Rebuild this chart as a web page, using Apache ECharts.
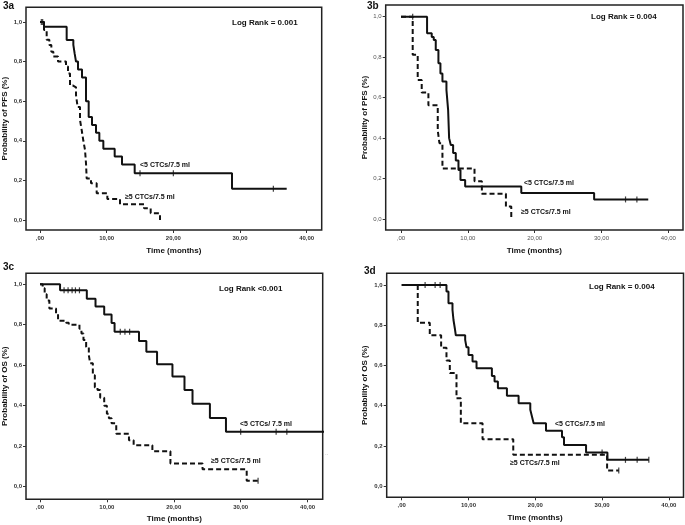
<!DOCTYPE html>
<html>
<head>
<meta charset="utf-8">
<script src="https://cdn.jsdelivr.net/npm/echarts@6/dist/echarts.min.js"></script>
<style>html,body{margin:0;padding:0;background:#fff}#c{width:685px;height:525px}</style>
</head>
<body>
<div id="c"></div>
<script>
// ---- tick labels ----
const xTicks = [0, 10, 20, 30, 40];
const yTicks = [0, 0.2, 0.4, 0.6, 0.8, 1.0];

// ---- panel titles / texts ----
const panelNames = ['3a', '3b', '3c', '3d'];
const logRanks = ['Log Rank = 0.001', 'Log Rank = 0.004', 'Log Rank <0.001', 'Log Rank = 0.004'];
const yTitles = ['Probability of PFS (%)', 'Probability of PFS (%)', 'Probability of OS (%)', 'Probability of OS (%)'];
const xTitle = 'Time (months)';
const lowLabels = ['<5 CTCs/7.5 ml', '<5 CTCs/7.5 ml', '<5 CTCs/ 7.5 ml', '<5 CTCs/7.5 ml'];
const highLabels = ['≥5 CTCs/7.5 ml', '≥5 CTCs/7.5 ml', '≥5 CTCs/7.5 ml', '≥5 CTCs/7.5 ml'];

// ---- 3a PFS ----
const aLow = [[0,1],[0.6,0.976],[4.0,0.909],[5.0,0.884],[5.2,0.84],[5.4,0.80],[5.7,0.76],[6.3,0.72],[6.9,0.60],[7.3,0.52],[7.8,0.48],[8.4,0.44],[8.9,0.40],[9.5,0.36],[11.2,0.32],[12.3,0.28],[14.2,0.236],[28.8,0.158],[37,0.158]];
const aLowCens = [[15,0.236],[20,0.236],[35,0.158]];
const aHigh = [[0,1],[0.6,0.96],[1.0,0.91],[1.4,0.884],[1.7,0.85],[2.0,0.825],[2.7,0.80],[3.9,0.775],[4.2,0.74],[4.5,0.68],[4.9,0.67],[5.4,0.63],[5.65,0.57],[6.0,0.505],[6.25,0.455],[6.5,0.40],[6.75,0.354],[6.9,0.286],[7.0,0.21],[7.65,0.185],[8.5,0.135],[10.1,0.106],[12.0,0.08],[15.6,0.059],[16.6,0.034],[18.0,0.0]];
const aHighCens = [[0.2,1],[0.4,1]];

// ---- 3b PFS ----
const bLow = [[0,1],[3.9,0.918],[4.6,0.90],[4.9,0.885],[5.2,0.835],[5.6,0.77],[5.9,0.72],[6.2,0.68],[6.8,0.638],[7.05,0.54],[7.2,0.40],[7.45,0.366],[7.8,0.326],[8.2,0.29],[8.6,0.242],[8.9,0.193],[9.6,0.161],[18.0,0.129],[28.9,0.097],[37,0.097]];
const bLowCens = [[33.6,0.097],[35.3,0.097]];
const bHigh = [[0,1],[1.75,0.8125],[2.5,0.6875],[3.1,0.625],[4.1,0.5625],[5.5,0.4375],[5.75,0.375],[6.2,0.25],[11.0,0.1875],[12.1,0.125],[15.7,0.0625],[16.5,0]];
const bHighCens = [[1.75,1]];

// ---- 3c OS ----
const cLow = [[0,1],[3.0,0.97],[7.0,0.928],[8.3,0.89],[9.6,0.85],[10.7,0.808],[11.15,0.765],[14.8,0.72],[15.9,0.666],[17.5,0.605],[19.8,0.545],[21.6,0.478],[22.8,0.41],[25.4,0.34],[27.8,0.272],[44,0.272]];
const cLowCens = [[3.6,0.97],[4.2,0.97],[4.8,0.97],[5.3,0.97],[5.9,0.97],[12.0,0.765],[12.7,0.765],[13.4,0.765],[30,0.272],[35.3,0.272],[36.9,0.272]];
const cHigh = [[0,1],[0.4,0.98],[0.7,0.95],[1.0,0.92],[1.4,0.88],[2.4,0.855],[2.7,0.82],[3.9,0.81],[4.3,0.80],[5.9,0.78],[6.2,0.757],[6.5,0.725],[6.9,0.69],[7.3,0.65],[7.5,0.61],[7.9,0.55],[8.2,0.49],[8.6,0.478],[9.0,0.44],[9.6,0.40],[10.0,0.36],[10.3,0.338],[10.7,0.313],[11.4,0.262],[13.3,0.23],[14.0,0.205],[16.8,0.175],[19.5,0.115],[24.3,0.086],[30.9,0.03],[32.6,0.03]];
const cHighCens = [[32.6,0.03]];

// ---- 3d OS ----
const dLow = [[0,1],[6.7,0.967],[7.0,0.909],[7.6,0.876],[7.75,0.826],[7.95,0.785],[8.1,0.75],[9.5,0.727],[9.7,0.69],[10.0,0.652],[10.6,0.62],[11.2,0.586],[13.5,0.548],[13.9,0.52],[14.4,0.487],[15.75,0.449],[17.5,0.412],[19.25,0.38],[19.5,0.346],[19.75,0.313],[21.6,0.276],[24.0,0.243],[24.3,0.205],[27.6,0.167],[30.8,0.131],[37,0.131]];
const dLowCens = [[3.5,1],[5.0,1],[5.75,1],[30.0,0.167],[33.5,0.131],[35.25,0.131],[37,0.131]];
const dHigh = [[0,1],[2.4,0.8125],[4.2,0.75],[5.9,0.6875],[6.7,0.625],[7.2,0.5625],[8.2,0.4375],[8.85,0.3125],[12.1,0.234],[16.7,0.156],[30.75,0.078],[32.5,0.078]];
const dHighCens = [[32.5,0.078]];

const lows = [aLow, bLow, cLow, dLow];
const highs = [aHigh, bHigh, cHigh, dHigh];
const lowCens = [aLowCens, bLowCens, cLowCens, dLowCens];
const highCens = [aHighCens, bHighCens, cHighCens, dHighCens];

// ---- layout ----
const grids = [
  {left: 26, top: 7.3, width: 295.7, height: 222.7},
  {left: 385.7, top: 5, width: 297.3, height: 225},
  {left: 26, top: 273.3, width: 296.7, height: 226},
  {left: 386.7, top: 273.3, width: 296.8, height: 224}
];
const xRanges = [[-2.1, 42.25], [-2.29, 42.2], [-2.09, 42.26], [-2.25, 42.19]];
const yRanges = [[-0.0505, 1.074], [-0.054, 1.058], [-0.062, 1.054], [-0.055, 1.058]];
const xNameGaps = [16.5, 16.5, 15, 16];
const yNameGaps = [17, 16.7, 17, 17.7];

const ink = '#111';
const tickFmtX = v => v === 0 ? ',00' : v.toFixed(2).replace('.', ',');
const tickFmtY = v => v.toFixed(1).replace('.', ',');
const font = 'Liberation Sans';

const option = {
  animation: false,
  backgroundColor: '#fff',
  grid: grids.map(g => Object.assign({show: true, borderColor: '#222', borderWidth: 1.5, backgroundColor: 'transparent'}, g)),
  xAxis: grids.map((g, i) => ({
    type: 'value', gridIndex: i, min: xRanges[i][0], max: xRanges[i][1], position: 'bottom',
    axisLine: {show: false, onZero: false}, splitLine: {show: false},
    axisTick: {show: true, inside: false, length: 3, customValues: xTicks, lineStyle: {color: '#333', width: 1}},
    axisLabel: {customValues: xTicks, formatter: tickFmtX, fontSize: 6, fontFamily: font,
      fontWeight: i === 1 ? 'normal' : 'bold', color: i === 1 ? '#555' : '#333', margin: 5},
    name: xTitle, nameLocation: 'middle', nameGap: xNameGaps[i],
    nameTextStyle: {fontSize: 8, fontWeight: 'bold', fontFamily: font, color: ink}
  })),
  yAxis: grids.map((g, i) => ({
    type: 'value', gridIndex: i, min: yRanges[i][0], max: yRanges[i][1], position: 'left',
    axisLine: {show: false, onZero: false}, splitLine: {show: false},
    axisTick: {show: true, inside: false, length: 3, customValues: yTicks, lineStyle: {color: '#333', width: 1}},
    axisLabel: {customValues: yTicks, formatter: tickFmtY, fontSize: 6, fontFamily: font,
      fontWeight: i === 1 ? 'normal' : 'bold', color: i === 1 ? '#555' : '#333', margin: 4},
    name: yTitles[i], nameLocation: 'middle', nameGap: yNameGaps[i],
    nameTextStyle: {fontSize: 8, fontWeight: 'bold', fontFamily: font, color: ink}
  })),
  series: [],
  graphic: []
};

for (let i = 0; i < 4; i++) {
  option.series.push({
    type: 'line', xAxisIndex: i, yAxisIndex: i, data: lows[i], step: 'end', showSymbol: false,
    lineStyle: {color: ink, width: 2}, clip: true, silent: true
  });
  option.series.push({
    type: 'line', xAxisIndex: i, yAxisIndex: i, data: highs[i], step: 'end', showSymbol: false,
    lineStyle: {color: ink, width: 2, type: [5, 3]}, clip: true, silent: true
  });
  option.series.push({
    type: 'scatter', xAxisIndex: i, yAxisIndex: i, data: lowCens[i].concat(highCens[i]),
    symbol: 'rect', symbolSize: [1.2, 6], itemStyle: {color: ink}, silent: true
  });
}

// text annotations
const panelPos = [[3, 1], [367, 1], [3, 262], [364, 266]];
const logPos = [[232, 23], [591, 17], [219, 289], [589, 287]];
const lowPos = [[140, 165], [524, 183], [240, 424], [555, 424]];
const highPos = [[125, 197], [521, 212], [211, 461], [510, 463]];
for (let i = 0; i < 4; i++) {
  option.graphic.push({type: 'text', left: panelPos[i][0], top: panelPos[i][1],
    style: {text: panelNames[i], font: 'bold 10px ' + font, fill: ink}});
  option.graphic.push({type: 'text', x: logPos[i][0], y: logPos[i][1],
    style: {text: logRanks[i], font: 'bold 8px ' + font, fill: ink, textVerticalAlign: 'middle'}});
  option.graphic.push({type: 'text', x: lowPos[i][0], y: lowPos[i][1],
    style: {text: lowLabels[i], font: 'bold 7px ' + font, fill: ink, textVerticalAlign: 'middle'}});
  option.graphic.push({type: 'text', x: highPos[i][0], y: highPos[i][1],
    style: {text: highLabels[i], font: 'bold 7px ' + font, fill: ink, textVerticalAlign: 'middle'}});
}
option.graphic.push({type: 'text', x: 325, y: 450, style: {text: '..', font: '6px ' + font, fill: '#999'}});

const chart = echarts.init(document.getElementById('c'), null, {renderer: 'canvas'});
chart.setOption(option);
</script>
</body>
</html>
